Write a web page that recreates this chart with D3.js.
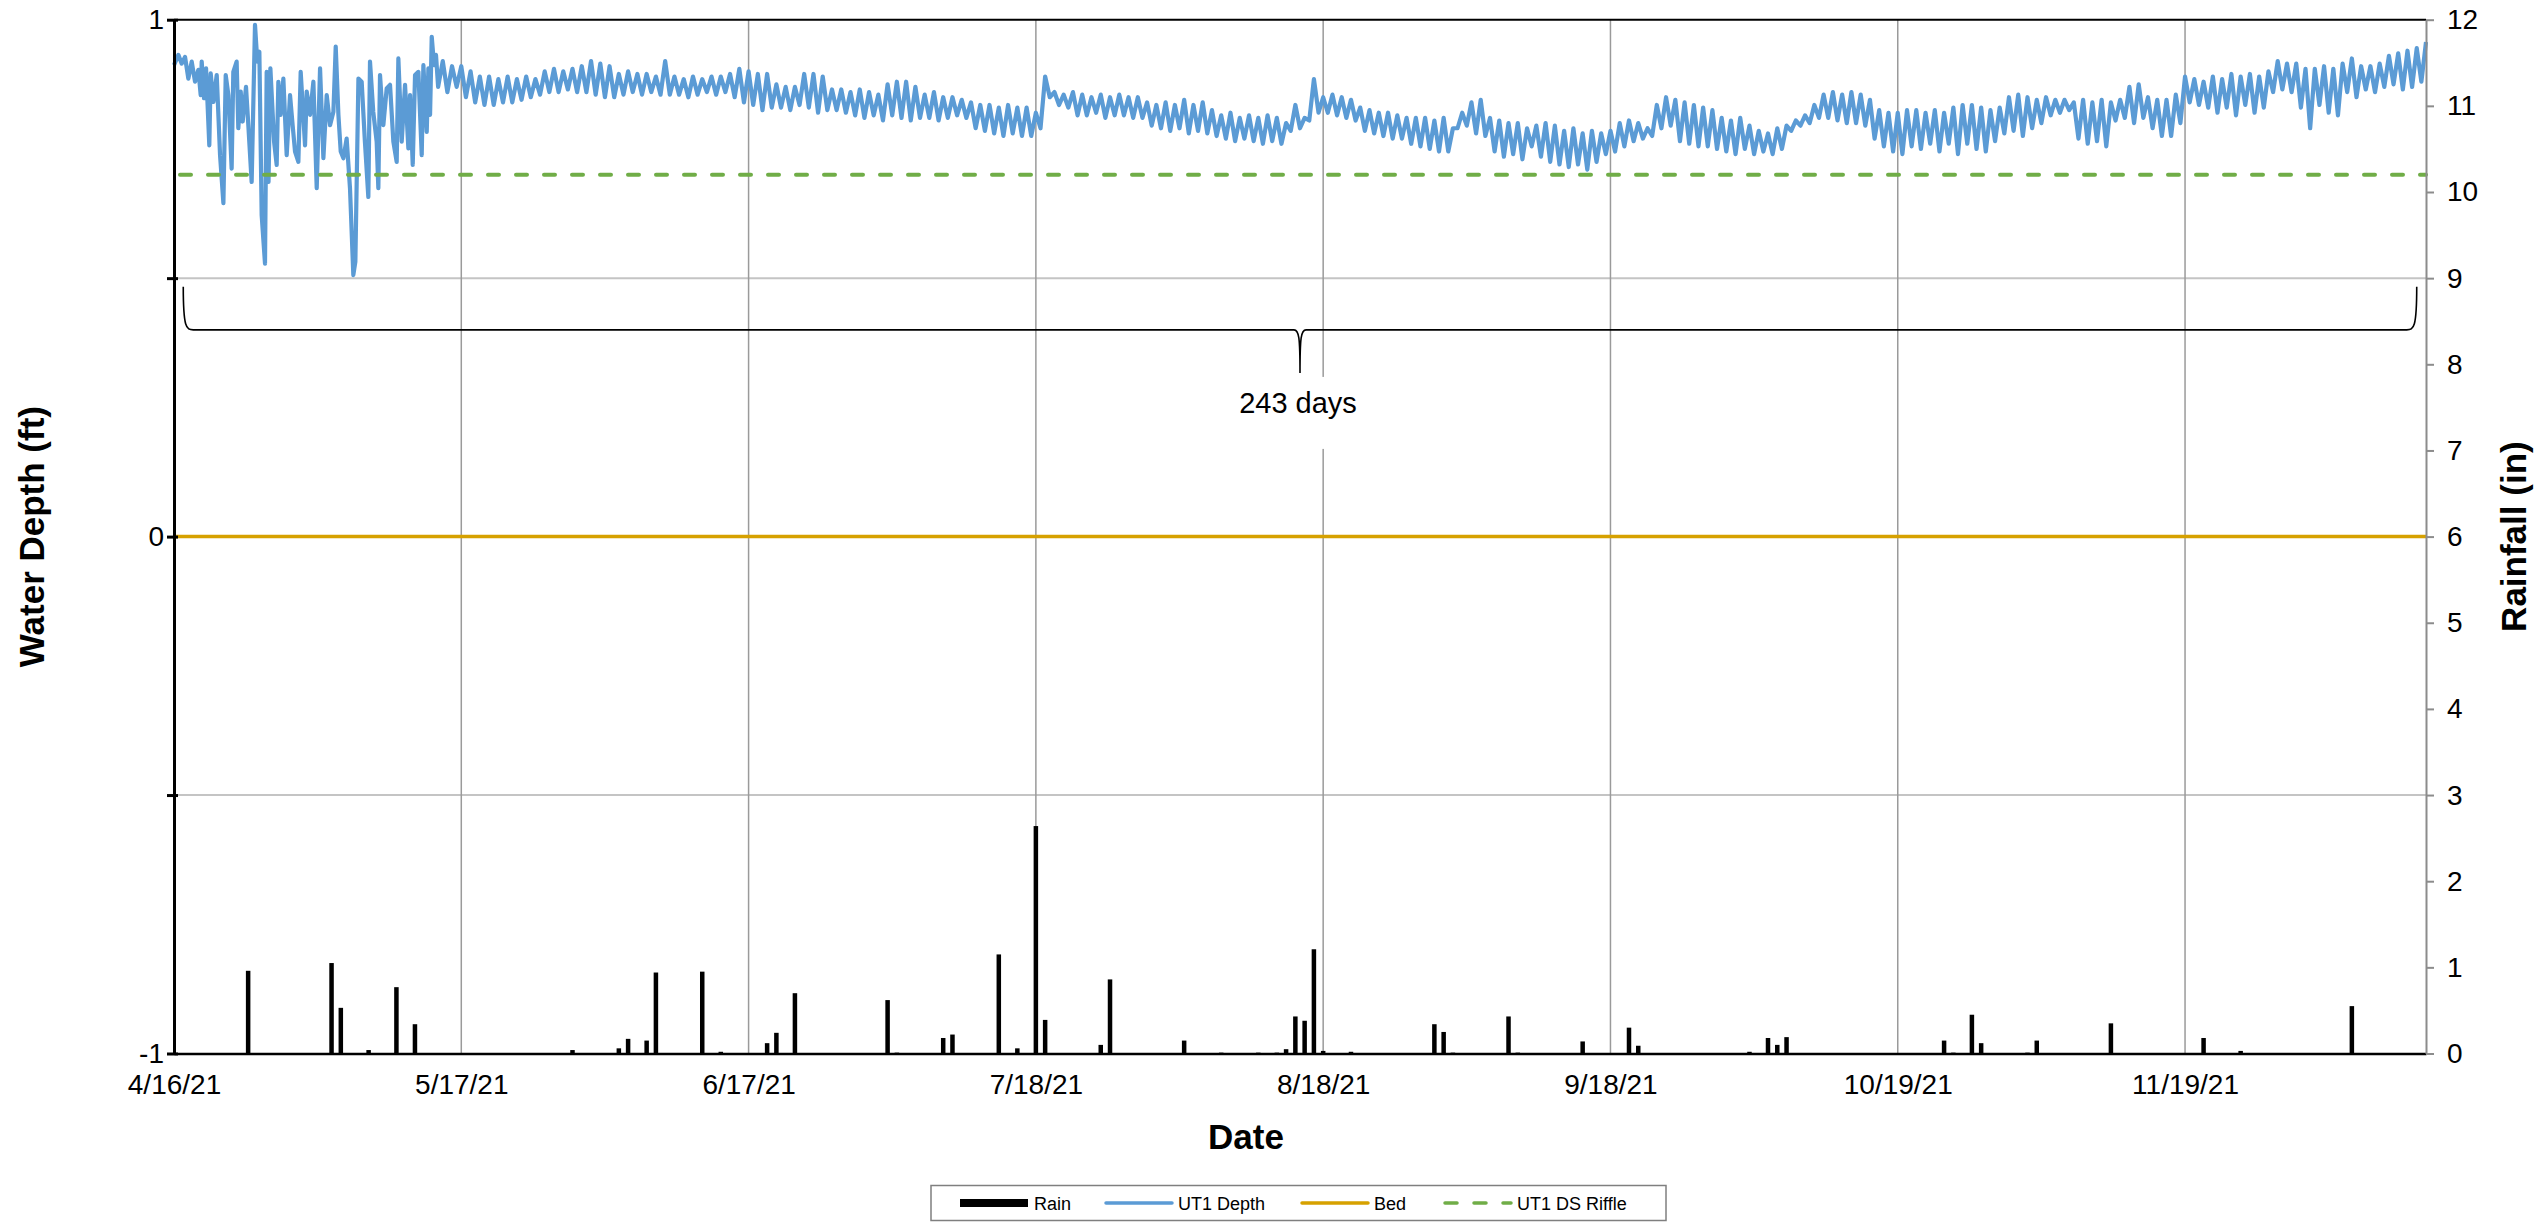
<!DOCTYPE html>
<html>
<head>
<meta charset="utf-8">
<script src="https://cdn.jsdelivr.net/npm/d3@7"></script>
<style>
  body { margin: 0; background: #fff; }
  text { font-family: "Liberation Sans", Arial, sans-serif; }
</style>
</head>
<body>
<div id="container"></div>
<script>
/* DATA */
const startDate = "4/16/21";
const endDate = "12/15/21";
const tickDates = ["4/16/21", "5/17/21", "6/17/21", "7/18/21", "8/18/21", "9/18/21", "10/19/21", "11/19/21"];
const depthTicks = [-1, -0.5, 0, 0.5, 1];
const rainTicks = d3.range(0, 13);

// UT1 Depth, first weeks (irregular, storm-affected) : day offset from 4/16 and depth in ft
const earlyDays = [0,0.47,0.83,1.19,1.55,1.91,2.27,2.63,2.88,2.99,
  3.24,3.46,3.81,3.96,4.25,4.61,4.97,5.33,5.58,5.87,
  6.22,6.4,6.76,6.94,7.2,7.41,7.77,8.02,8.38,8.74,
  8.99,9.21,9.46,9.82,10.0,10.2,10.4,10.8,11.08,11.26,
  11.5,11.8,12.16,12.52,12.8,13.06,13.42,13.67,14.14,14.32,
  14.68,15.04,15.4,15.76,16.12,16.48,16.84,17.2,17.45,17.74,
  17.99,18.28,18.63,18.99,19.35,19.57,19.9,20.25,20.6,20.97,
  21.15,21.5,21.87,22.05,22.23,22.59,22.95,23.31,23.67,24.03,
  24.21,24.57,24.93,25.29,25.47,25.76,26.01,26.37,26.73,26.91,
  27.27,27.45,27.63,27.81,28.06,28.27];
const earlyFt = [.912,.932,.915,.928,.886,.919,.880,.903,.854,.919,
  .848,.906,.757,.896,.841,.893,.738,.645,.893,.854,
  .712,.899,.919,.790,.861,.803,.870,.796,.686,.990,
  .919,.938,.622,.528,.899,.686,.906,.764,.719,.880,
  .816,.886,.738,.854,.796,.745,.725,.899,.757,.861,
  .816,.880,.674,.906,.732,.854,.796,.822,.948,.816,
  .745,.732,.770,.674,.506,.532,.886,.880,.764,.657,
  .919,.822,.764,.674,.893,.796,.867,.874,.764,.725,
  .925,.764,.874,.751,.854,.719,.893,.899,.738,.912,
  .783,.906,.816,.967,.912,.932];

// UT1 Depth afterwards, every 12 hours from day 28.5
const dailyStart = 28.5, dailyStep = 0.5;
const dailyFt = [
  .87,.92,.86,.91,.87,.91,.85,.90,.84,.89,
  .835,.89,.835,.885,.84,.89,.84,.885,.845,.89,
  .85,.885,.855,.90,.86,.905,.86,.90,.865,.905,
  .86,.91,.86,.92,.855,.915,.85,.91,.85,.895,
  .855,.90,.86,.895,.855,.895,.86,.89,.855,.92,
  .855,.89,.855,.885,.85,.89,.855,.885,.86,.89,
  .855,.89,.86,.895,.85,.905,.84,.90,.835,.895,
  .825,.895,.83,.875,.83,.87,.825,.87,.835,.895,
  .83,.895,.82,.89,.825,.865,.825,.865,.82,.86,
  .815,.865,.81,.86,.815,.855,.805,.875,.815,.88,
  .81,.88,.805,.87,.81,.855,.81,.86,.805,.85,
  .81,.85,.815,.845,.81,.84,.79,.835,.785,.835,
  .78,.83,.775,.835,.78,.83,.775,.83,.775,.82,
  .79,.89,.85,.86,.835,.855,.83,.86,.815,.855,
  .815,.85,.82,.855,.81,.85,.815,.855,.815,.85,
  .81,.85,.81,.84,.795,.835,.79,.84,.785,.835,
  .79,.845,.78,.835,.785,.84,.78,.825,.775,.815,
  .77,.82,.765,.81,.77,.815,.765,.81,.76,.815,
  .765,.81,.76,.80,.785,.835,.79,.81,.805,.885,
  .82,.85,.82,.855,.815,.85,.81,.845,.805,.83,
  .785,.825,.78,.82,.775,.82,.77,.815,.77,.81,
  .76,.81,.755,.81,.75,.805,.745,.81,.745,.79,
  .79,.82,.795,.84,.78,.845,.775,.81,.745,.805,
  .735,.80,.74,.80,.73,.79,.755,.795,.735,.80,
  .725,.795,.72,.785,.715,.79,.72,.78,.71,.785,
  .725,.78,.74,.785,.745,.80,.755,.805,.765,.80,
  .77,.79,.775,.835,.79,.85,.795,.845,.765,.84,
  .76,.835,.755,.83,.755,.825,.75,.81,.745,.805,
  .74,.81,.75,.795,.74,.785,.745,.78,.74,.79,
  .75,.795,.785,.805,.795,.815,.80,.835,.81,.855,
  .81,.86,.805,.855,.80,.86,.80,.855,.795,.845,
  .77,.825,.755,.82,.745,.82,.74,.825,.755,.825,
  .75,.82,.76,.825,.745,.82,.76,.83,.74,.835,
  .76,.835,.75,.83,.745,.825,.765,.83,.78,.85,
  .785,.855,.775,.85,.79,.845,.80,.85,.815,.845,
  .82,.845,.825,.84,.77,.845,.76,.84,.765,.845,
  .755,.84,.805,.845,.81,.87,.80,.875,.81,.85,
  .79,.845,.775,.845,.775,.855,.80,.89,.84,.885,
  .835,.88,.83,.89,.82,.885,.83,.895,.815,.89,
  .835,.895,.82,.89,.83,.90,.86,.92,.865,.915,
  .86,.915,.83,.905,.79,.905,.835,.91,.82,.905,
  .815,.915,.86,.925,.85,.91,.865,.91,.86,.915,
  .87,.93,.875,.935,.865,.94,.87,.945,.88,.957];

// Rain (in)
const rainDates = ["4/24/21","5/3/21","5/4/21","5/7/21","5/10/21","5/12/21","5/29/21","6/3/21","6/4/21","6/6/21",
  "6/7/21","6/12/21","6/14/21","6/19/21","6/20/21","6/22/21","7/2/21","7/3/21","7/8/21","7/9/21",
  "7/14/21","7/16/21","7/18/21","7/19/21","7/25/21","7/26/21","8/3/21","8/7/21","8/11/21","8/13/21",
  "8/14/21","8/15/21","8/16/21","8/17/21","8/18/21","8/21/21","8/30/21","8/31/21","9/1/21","9/7/21",
  "9/8/21","9/15/21","9/20/21","9/21/21","10/3/21","10/5/21","10/6/21","10/7/21","10/24/21","10/25/21",
  "10/27/21","10/28/21","11/2/21","11/3/21","11/11/21","11/21/21","11/25/21","12/7/21"];
const rainIn = [0.96,1.05,0.53,0.04,0.77,0.34,0.04,0.06,0.17,0.15,
  0.94,0.95,0.02,0.12,0.24,0.70,0.62,0.01,0.18,0.22,
  1.15,0.06,2.64,0.39,0.10,0.86,0.15,0.01,0.01,0.01,
  0.05,0.43,0.38,1.21,0.03,0.02,0.34,0.25,0.01,0.43,
  0.01,0.14,0.30,0.09,0.02,0.18,0.10,0.19,0.15,0.01,
  0.45,0.12,0.01,0.15,0.35,0.18,0.03,0.55];

const bedFt = 0;
const riffleFt = 0.70;

const braceFrom = "4/17/21", braceTo = "12/14/21", braceLabel = "243 days";

const legendNames = ["Rain", "UT1 Depth", "Bed", "UT1 DS Riffle"];

/* CONSTANTS */
const width = 2547, height = 1225,
  margin = { top: 19.7, bottom: 171.5, left: 174, right: 121 };
const colors = { rain: "#000", depth: "#5B9BD5", bed: "#D6A100", riffle: "#70AD47" };
const font = '"Liberation Sans", Arial, sans-serif';

const parse = d3.utcParse("%m/%d/%y");
const t0 = parse(startDate);
const dayToDate = d => new Date(t0.getTime() + d * 864e5);

const depthData = earlyDays.map((d, i) => ({ date: dayToDate(d), ft: earlyFt[i] }))
  .concat(dailyFt.map((v, i) => ({ date: dayToDate(dailyStart + i * dailyStep), ft: v })));
const rainData = rainDates.map((d, i) => ({ date: parse(d), v: rainIn[i] }));

/* SCALES */
const xScale = d3.scaleUtc()
  .domain([t0, parse(endDate)])
  .range([margin.left, width - margin.right]);
const yDepth = d3.scaleLinear().domain([-1, 1]).range([height - margin.bottom, margin.top]);
const yRain = d3.scaleLinear().domain([0, 12]).range([height - margin.bottom, margin.top]);

const svg = d3.select("#container").append("svg")
  .attr("width", width).attr("height", height)
  .style("background", "#fff");

// horizontal gridlines
svg.append("g")
  .selectAll("line")
  .data(depthTicks.filter(d => d !== -1 && d !== 1))
  .join("line")
  .attr("x1", margin.left).attr("x2", width - margin.right)
  .attr("y1", d => yDepth(d)).attr("y2", d => yDepth(d))
  .attr("stroke", "#C4C4C4").attr("stroke-width", 2);

// vertical gridlines
svg.append("g")
  .selectAll("line")
  .data(tickDates.slice(1))
  .join("line")
  .attr("x1", d => xScale(parse(d))).attr("x2", d => xScale(parse(d)))
  .attr("y1", margin.top).attr("y2", height - margin.bottom)
  .attr("stroke", "#9A9A9A").attr("stroke-width", 1.5);

// rain bars
svg.append("g")
  .selectAll("rect")
  .data(rainData)
  .join("rect")
  .attr("x", d => xScale(d.date) - 2.25)
  .attr("width", 4.5)
  .attr("y", d => yRain(d.v))
  .attr("height", d => yRain(0) - yRain(d.v))
  .attr("fill", colors.rain);

// depth line
svg.append("path")
  .datum(depthData)
  .attr("fill", "none")
  .attr("stroke", colors.depth)
  .attr("stroke-width", 4.2)
  .attr("stroke-linejoin", "round")
  .attr("d", d3.line().x(d => xScale(d.date)).y(d => yDepth(d.ft)));

// bed line
svg.append("line")
  .attr("x1", margin.left).attr("x2", width - margin.right)
  .attr("y1", yDepth(bedFt)).attr("y2", yDepth(bedFt))
  .attr("stroke", colors.bed).attr("stroke-width", 3.5);

// riffle line
svg.append("line")
  .attr("x1", margin.left + 6).attr("x2", width - margin.right)
  .attr("y1", yDepth(riffleFt)).attr("y2", yDepth(riffleFt))
  .attr("stroke", colors.riffle).attr("stroke-width", 4)
  .attr("stroke-dasharray", "11,17").attr("stroke-linecap", "round");

// top border
svg.append("line")
  .attr("x1", margin.left).attr("x2", width - margin.right)
  .attr("y1", margin.top).attr("y2", margin.top)
  .attr("stroke", "#000").attr("stroke-width", 2);

/* AXES */
const xAxis = d3.axisBottom(xScale)
  .tickValues(tickDates.map(parse))
  .tickFormat(d3.utcFormat("%-m/%-d/%y"))
  .tickSize(0).tickSizeOuter(0)
  .tickPadding(21);
const gx = svg.append("g")
  .attr("transform", `translate(0,${height - margin.bottom})`)
  .call(xAxis);
gx.select(".domain").attr("stroke", "#000").attr("stroke-width", 2.5);

const yAxisL = d3.axisLeft(yDepth)
  .tickValues(depthTicks)
  .tickSize(7).tickSizeOuter(0)
  .tickPadding(3)
  .tickFormat(d => Number.isInteger(d) ? (d < 0 ? "-" + Math.abs(d) : String(d)) : "");
const gl = svg.append("g")
  .attr("transform", `translate(${margin.left},0)`)
  .call(yAxisL);
gl.select(".domain").attr("stroke", "#000").attr("stroke-width", 3);
gl.selectAll(".tick line").attr("x1", 4).attr("stroke", "#000").attr("stroke-width", 3);

const yAxisR = d3.axisRight(yRain)
  .tickValues(rainTicks)
  .tickSize(8).tickSizeOuter(0)
  .tickPadding(13);
const gr = svg.append("g")
  .attr("transform", `translate(${width - margin.right},0)`)
  .call(yAxisR);
gr.select(".domain").attr("stroke", "#8C8C8C").attr("stroke-width", 2);
gr.selectAll(".tick line").attr("stroke", "#8C8C8C").attr("stroke-width", 2);

svg.selectAll(".tick text")
  .attr("font-size", 28)
  .attr("font-family", font)
  .attr("fill", "#000");

/* TITLES */
svg.append("text")
  .attr("transform", `translate(32,${yDepth(0)}) rotate(-90)`)
  .attr("text-anchor", "middle").attr("dy", "0.35em")
  .style("font-size", "35px").style("font-weight", "bold")
  .text("Water Depth (ft)");

svg.append("text")
  .attr("transform", `translate(2514,${yDepth(0)}) rotate(-90)`)
  .attr("text-anchor", "middle").attr("dy", "0.35em")
  .style("font-size", "35px").style("font-weight", "bold")
  .text("Rainfall (in)");

svg.append("text")
  .attr("x", 1246).attr("y", 1137)
  .attr("text-anchor", "middle").attr("dy", "0.35em")
  .style("font-size", "35px").style("font-weight", "bold")
  .text("Date");

/* BRACE ANNOTATION */
const xs = xScale(parse(braceFrom)), xe = xScale(parse(braceTo)), xm = (xs + xe) / 2;
const yTop = yRain(8.9), yMid = yRain(8.4), yTip = yRain(7.9);
svg.append("path")
  .attr("fill", "none").attr("stroke", "#000").attr("stroke-width", 1.6)
  .attr("d", `M${xs},${yTop} C${xs},${yMid - 2} ${xs + 3},${yMid} ${xs + 10},${yMid} L${xm - 6},${yMid} ` +
    `C${xm - 1},${yMid} ${xm},${yMid + 8} ${xm},${yTip} M${xm},${yTip} C${xm},${yMid + 8} ${xm + 1},${yMid} ${xm + 6},${yMid} ` +
    `L${xe - 10},${yMid} C${xe - 3},${yMid} ${xe},${yMid - 2} ${xe},${yTop}`);

svg.append("rect")
  .attr("x", xm - 72).attr("y", yTip + 4)
  .attr("width", 144).attr("height", 72)
  .attr("fill", "#fff");
svg.append("text")
  .attr("x", xm - 2).attr("y", yTip + 40)
  .attr("text-anchor", "middle")
  .style("font-size", "29px")
  .text(braceLabel);

/* LEGEND */
const legend = svg.append("g");
legend.append("rect")
  .attr("x", 931).attr("y", 1185.5)
  .attr("width", 735).attr("height", 35)
  .attr("fill", "#fff").attr("stroke", "#7F7F7F").attr("stroke-width", 1.5);

const legendX = [960, 1104, 1300, 1443];
const ly = 1203;
legendNames.forEach((name, i) => {
  const lx = legendX[i];
  if (i === 0) {
    legend.append("rect").attr("x", lx).attr("y", ly - 4).attr("width", 68).attr("height", 8).attr("fill", colors.rain);
  } else {
    const stroke = [null, colors.depth, colors.bed, colors.riffle][i];
    legend.append("line")
      .attr("x1", lx + 2).attr("x2", lx + 68).attr("y1", ly).attr("y2", ly)
      .attr("stroke", stroke).attr("stroke-width", 3.5)
      .attr("stroke-linecap", "round")
      .attr("stroke-dasharray", i === 3 ? "12,17" : null);
  }
  legend.append("text")
    .attr("x", lx + 74).attr("y", ly + 6.5)
    .style("font-size", "18px")
    .text(name);
});
</script>
</body>
</html>
